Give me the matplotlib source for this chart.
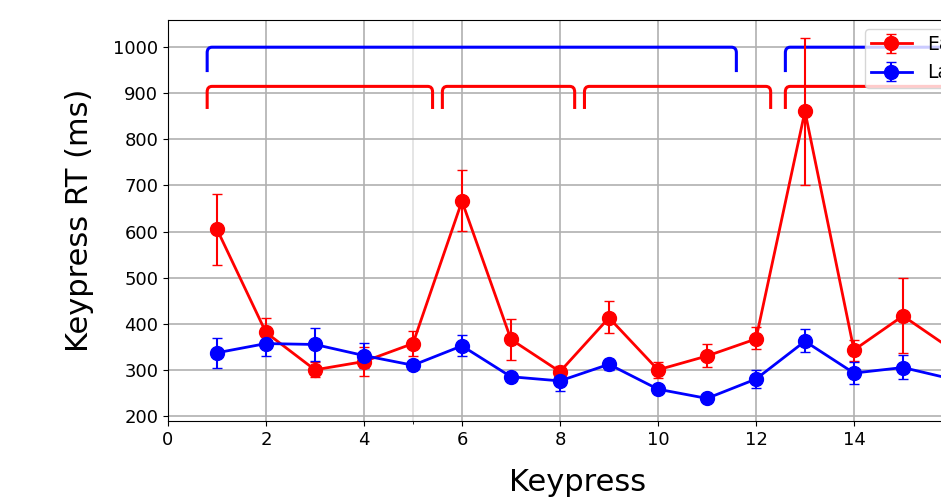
import matplotlib.pyplot as plt
import numpy as np
from matplotlib.path import Path
from matplotlib.patches import PathPatch

keypress = np.arange(1, 17)

# Early group: means and error-bar bounds (ms)
early = [605, 381, 300, 318, 357, 666, 366, 296, 413, 300, 330, 367, 861, 343, 417, 344]
early_lo = [527, 350, 285, 287, 330, 601, 321, 283, 379, 282, 306, 345, 701, 320, 336, 325]
early_hi = [681, 412, 316, 350, 385, 733, 410, 309, 449, 316, 356, 392, 1021, 365, 500, 365]

# Late group
late = [337, 357, 355, 331, 310, 352, 285, 276, 312, 258, 238, 280, 362, 293, 305, 280]
late_lo = [303, 329, 319, 305, 302, 330, 277, 254, 300, 250, 231, 261, 339, 269, 280, 268]
late_hi = [370, 387, 390, 359, 318, 376, 293, 293, 324, 266, 245, 300, 388, 318, 332, 292]

# bracket groups (x start, x end)
red_groups = [(0.8, 5.4), (5.6, 8.3), (8.5, 12.3), (12.6, 16.4)]
blue_groups = [(0.8, 11.6), (12.6, 16.4)]


def bracket(ax, x0, x1, ytop, ybot, color):
    rx, ry = 0.1, 12
    verts = [(x0, ybot), (x0, ytop - ry), (x0, ytop), (x0 + rx, ytop),
             (x1 - rx, ytop), (x1, ytop), (x1, ytop - ry), (x1, ybot)]
    codes = [Path.MOVETO, Path.LINETO, Path.CURVE3, Path.CURVE3,
             Path.LINETO, Path.CURVE3, Path.CURVE3, Path.LINETO]
    ax.add_patch(PathPatch(Path(verts, codes), fill=False, edgecolor=color,
                           lw=2.2, capstyle='butt'))


fig = plt.figure(figsize=(9.41, 5.04), dpi=100)
ax = fig.add_axes([0.1785, 0.1647, 0.8696, 0.7956])

e = np.array(early)
l = np.array(late)
ax.errorbar(keypress, e, yerr=[e - np.array(early_lo), np.array(early_hi) - e],
            fmt='-o', color='red', ms=10, lw=2, elinewidth=1.5, capsize=3.5,
            label='Early', zorder=3)
ax.errorbar(keypress, l, yerr=[l - np.array(late_lo), np.array(late_hi) - l],
            fmt='-o', color='blue', ms=10, lw=2, elinewidth=1.5, capsize=3.5,
            label='Late', zorder=3)

for x0, x1 in red_groups:
    bracket(ax, x0, x1, 915, 866, 'red')
for x0, x1 in blue_groups:
    bracket(ax, x0, x1, 1000, 946, 'blue')

ax.set_xlim(0, 16.7)
ax.set_ylim(189, 1059)
ax.set_xticks(np.arange(0, 15, 2))
ax.set_xticks([5], minor=True)
ax.set_yticks(np.arange(200, 1001, 100))
ax.grid(which='major', color='#b0b0b0', lw=1.2)
ax.grid(which='minor', axis='x', color='#e0e0e0', lw=1.2)
ax.tick_params(labelsize=13)
ax.set_axisbelow(True)

ax.set_xlabel('Keypress', fontsize=22, labelpad=14)
ax.set_ylabel('Keypress RT (ms)', fontsize=22, labelpad=14)
ax.legend(loc='upper right', fontsize=13.5, borderpad=0.3, handlelength=2.2,
          bbox_to_anchor=(1.004, 1.0))

fig.savefig('out.png', dpi=100)
